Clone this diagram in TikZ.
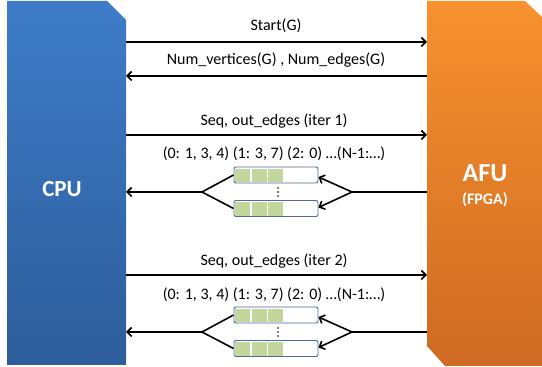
\documentclass[tikz,border=0pt]{standalone}
\usepackage{fontspec}
\setmainfont{Carlito}
\usetikzlibrary{arrows.meta,calc}
\definecolor{cputop}{HTML}{3E7CC9}
\definecolor{cpubot}{HTML}{2D5D9A}
\definecolor{afutop}{HTML}{F8912E}
\definecolor{afubot}{HTML}{CE6A22}
\definecolor{bufline}{HTML}{4A6C9E}
\definecolor{cellgreen}{HTML}{C3D69B}
\begin{document}
\begin{tikzpicture}[x=1pt,y=1pt,
  lbl/.style={font=\fontsize{16}{19}\selectfont, inner sep=0pt, text height=11pt, text depth=3pt},
  conn/.style={line width=1.6pt, black},
  arr/.style={conn, -{Straight Barb[length=4.5pt,width=9pt]}},
  bufbox/.style={draw=bufline, fill=white, line width=0.9pt, rounded corners=2pt,
    minimum width=84pt, minimum height=16pt, inner sep=0pt},
  cell/.style={fill=cellgreen},
  dot/.style={fill=black, circle, inner sep=0pt, minimum size=1.8pt}]
\useasboundingbox (0,0) rectangle (542,367);
% processors
\shade[top color=cputop,bottom color=cpubot] (7,366) -- (107,366) -- (126,347) -- (126,2) -- (7,2) -- cycle;
\shade[top color=afutop,bottom color=afubot] (427,366) -- (525,366) -- (542,350) -- (542,1) -- (445,1) -- (427,21) -- cycle;
\node[text=white, font=\fontsize{23}{26}\selectfont\bfseries] (cpu) at (62,178) {CPU};
\node[text=white, font=\fontsize{26}{29}\selectfont\bfseries] (afu) at (485,194) {AFU};
\node[text=white, font=\fontsize{16}{19}\selectfont\bfseries] (fpga) at (485,167) {(FPGA)};
% boundary coordinates
\coordinate (c1) at (126,325); \coordinate (a1) at (427,325);
\coordinate (c2) at (126,291); \coordinate (a2) at (427,291);
\coordinate (c3) at (126,232); \coordinate (a3) at (427,232);
\coordinate (c4) at (126,92);  \coordinate (a4) at (427,92);
% top messages
\node[lbl] (t1) at (276,340) {Start(G)};
\draw[arr] (c1) -- (a1);
\node[lbl] (t2) at (276,306) {Num\_vertices(G) , Num\_edges(G)};
\draw[arr] (a2) -- (c2);
\node[lbl] (t3) at (274,245) {Seq, out\_edges (iter 1)};
\draw[arr] (c3) -- (a3);
\node[lbl] (d1) at (274,212) {(0: 1, 3, 4) (1: 3, 7) (2: 0) …(N-1:…)};
\node[lbl] (t4) at (274,105) {Seq, out\_edges (iter 2)};
\draw[arr] (c4) -- (a4);
\node[lbl] (d2) at (274,71) {(0: 1, 3, 4) (1: 3, 7) (2: 0) …(N-1:…)};
% buffer groups
\foreach \g/\dy in {1/0,2/140}{
  \node[bufbox] (bufA\g) at (276,192-\dy) {};
  \node[bufbox] (bufB\g) at (276,158.5-\dy) {};
  \foreach \b in {bufA\g,bufB\g}{
    \foreach \k in {0,1,2}{
      \fill[cell] ($(\b.south west)+(1.6+16.4*\k,1.3)$) rectangle +(15,13.4);
    }
  }
  \node[dot] (dt1\g) at (278,179-\dy) {};
  \node[dot] (dt2\g) at (278,175-\dy) {};
  \node[dot] (dt3\g) at (278,171-\dy) {};
  \coordinate (lb\g) at (202,175-\dy);
  \coordinate (rb\g) at (352,175-\dy);
  \coordinate (ce\g) at (126,175-\dy);
  \coordinate (ae\g) at (427,175-\dy);
  \draw[conn] (bufA\g.west) -- (lb\g) -- (bufB\g.west);
  \draw[arr] (lb\g) -- (ce\g);
  \draw[conn] (ae\g) -- (rb\g);
  \draw[arr] (rb\g) -- ([yshift=-2pt]bufA\g.east);
  \draw[arr] (rb\g) -- ([yshift=1pt]bufB\g.east);
}
\end{tikzpicture}
\end{document}
